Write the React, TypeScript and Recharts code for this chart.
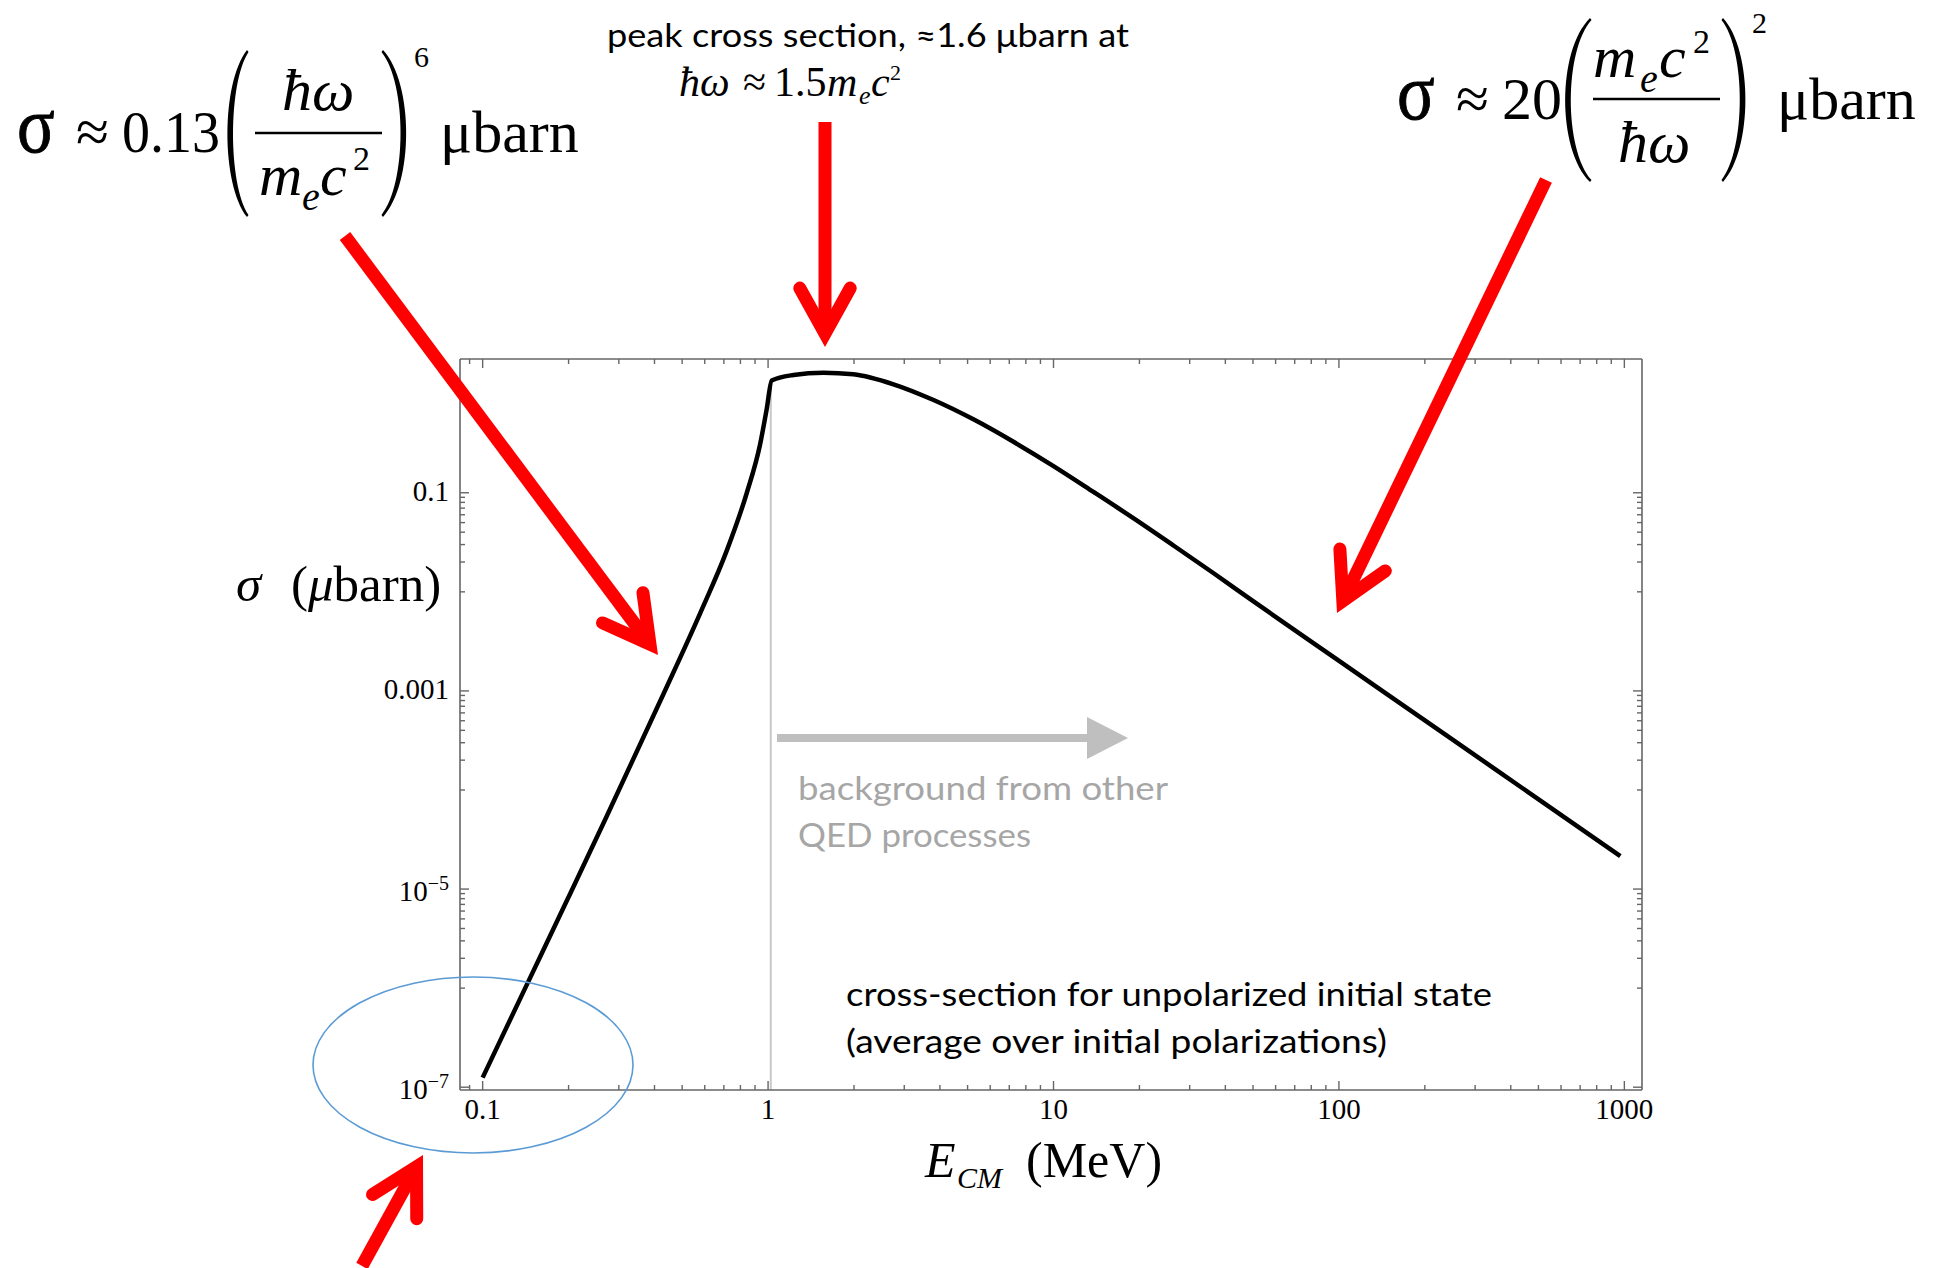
import React from "react";
import { LineChart, Line, XAxis, YAxis, ReferenceLine } from "recharts";

// ---------------- data ----------------
const energyMeV = [
  0.1, 0.14, 0.2, 0.268, 0.43, 0.578, 0.716, 0.842, 0.937, 0.989, 1.03, 1.227,
  1.563, 1.99, 2.75, 3.8, 5.24, 7.24, 10, 13.8, 19.1, 26.4, 36.4, 50.2, 101, 226,
  508, 968,
];
const sigmaMicrobarn = [
  1.25e-7, 9.6e-7, 8.3e-6, 4.94e-5, 9.3e-4, 6.07e-3, 0.0259, 0.0995, 0.305, 0.7,
  1.36, 1.545, 1.63, 1.57, 1.245, 0.863, 0.551, 0.327, 0.186, 0.102, 0.0551, 0.0292,
  0.0154, 0.008, 1.976e-3, 3.95e-4, 7.81e-5, 2.15e-5,
];
const thresholdEnergy = 1.022; // 2 m_e c^2
const thresholdSigma = 1.36;

const xDomain = [0.0833, 1153];
const yDomain = [9.37e-8, 2.24];

const xMajorTicks = [0.1, 1, 10, 100, 1000];
const xTickLabels = ["0.1", "1", "10", "100", "1000"];
const xMinorTicks = [
  0.09, 0.2, 0.3, 0.4, 0.5, 0.6, 0.7, 0.8, 0.9, 2, 3, 4, 5, 6, 7, 8, 9, 20, 30, 40,
  50, 60, 70, 80, 90, 200, 300, 400, 500, 600, 700, 800, 900,
];
const yMajorTicks = [1e-7, 1e-5, 1e-3, 0.1];
const yTickLabels = ["10|\u22127", "10|\u22125", "0.001", "0.1"];
const yMinorTicks = [
  0.09, 0.08, 0.07, 0.06, 0.05, 0.04, 0.03, 0.02, 0.01,
  9e-4, 8e-4, 7e-4, 6e-4, 5e-4, 4e-4, 3e-4, 2e-4, 1e-4,
  9e-6, 8e-6, 7e-6, 6e-6, 5e-6, 4e-6, 3e-6, 2e-6, 1e-6,
];

const chartData = energyMeV.map((e, i) => ({ e, s: sigmaMicrobarn[i] }));

// ---------------- styling ----------------
const W = 1941;
const H = 1268;
const SERIF = "'Liberation Serif', 'Times New Roman', serif";
const SANS = "Lato, 'Open Sans', sans-serif";
const FRAME = "#666666";
const MAJOR_LEN = 9;
const MINOR_LEN = 5;

const findIdx = (v: number, arr: number[]) =>
  arr.findIndex((m) => Math.abs(Math.log10(m) - Math.log10(v)) < 1e-6);

const renderYLabel = (label: string, x: number, y: number) => {
  const parts = label.split("|");
  if (parts.length === 2) {
    return (
      <text x={x} y={y + 11.5} textAnchor="end" fontFamily={SERIF} fontSize={29} fill="#000">
        {parts[0]}
        <tspan fontSize={20} dy={-11}>{parts[1]}</tspan>
      </text>
    );
  }
  return (
    <text x={x} y={y + 8} textAnchor="end" fontFamily={SERIF} fontSize={29} fill="#000">
      {label}
    </text>
  );
};

// tick renderers: x,y received are the axis-line position of the tick (tickSize=0, tickMargin=0)
const makeXTick = (side: "bottom" | "top") => (props: any) => {
  const { x, y, payload } = props;
  const idx = findIdx(payload.value, xMajorTicks);
  const major = idx >= 0;
  const len = major ? MAJOR_LEN : MINOR_LEN;
  const dir = side === "bottom" ? -1 : 1;
  return (
    <g>
      <line x1={x} x2={x} y1={y} y2={y + dir * len} stroke={FRAME} strokeWidth={1.4} />
      {major && side === "bottom" && (
        <text x={x} y={y + 29} textAnchor="middle" fontFamily={SERIF} fontSize={29} fill="#000">
          {xTickLabels[idx]}
        </text>
      )}
    </g>
  );
};

const makeYTick = (side: "left" | "right") => (props: any) => {
  const { x, y, payload } = props;
  const idx = findIdx(payload.value, yMajorTicks);
  const major = idx >= 0;
  const len = major ? MAJOR_LEN : MINOR_LEN;
  const dir = side === "left" ? 1 : -1;
  return (
    <g>
      <line x1={x} x2={x + dir * len} y1={y} y2={y} stroke={FRAME} strokeWidth={1.4} />
      {major && side === "left" && renderYLabel(yTickLabels[idx], x - 11, y)}
    </g>
  );
};

// ---------------- annotation helpers ----------------
const Paren = ({ xa, xb, ya, yb, side }: any) => {
  const h = yb - ya;
  let d;
  if (side === "left") {
    d = `M ${xb} ${ya} C ${xa - 6} ${ya + 0.2 * h}, ${xa - 6} ${yb - 0.2 * h}, ${xb} ${yb} L ${xb + 1.5} ${yb - 2} C ${xa + 1} ${yb - 0.2 * h}, ${xa + 1} ${ya + 0.2 * h}, ${xb + 1.5} ${ya + 2} Z`;
  } else {
    d = `M ${xa} ${ya} C ${xb + 6} ${ya + 0.2 * h}, ${xb + 6} ${yb - 0.2 * h}, ${xa} ${yb} L ${xa - 1.5} ${yb - 2} C ${xb - 1} ${yb - 0.2 * h}, ${xb - 1} ${ya + 0.2 * h}, ${xa - 1.5} ${ya + 2} Z`;
  }
  return <path d={d} fill="#000" />;
};

const RedArrow = ({ from, to }: any) => {
  const dx = to[0] - from[0];
  const dy = to[1] - from[1];
  const L = Math.hypot(dx, dy);
  const ux = dx / L;
  const uy = dy / L;
  const w = 13;
  const half = (29 * Math.PI) / 180;
  const back = w / 2 / Math.sin(half);
  const ax = to[0] - ux * back;
  const ay = to[1] - uy * back;
  const bl = 52;
  const vx = -ux;
  const vy = -uy;
  const r = (t: number) => [vx * Math.cos(t) - vy * Math.sin(t), vx * Math.sin(t) + vy * Math.cos(t)];
  const [r1x, r1y] = r(half);
  const [r2x, r2y] = r(-half);
  return (
    <g>
      <line x1={from[0]} y1={from[1]} x2={ax} y2={ay} stroke="#ff0000" strokeWidth={w} strokeLinecap="butt" />
      <polyline
        points={`${ax + r1x * bl},${ay + r1y * bl} ${ax},${ay} ${ax + r2x * bl},${ay + r2y * bl}`}
        fill="none"
        stroke="#ff0000"
        strokeWidth={w}
        strokeLinejoin="miter"
        strokeMiterlimit={10}
        strokeLinecap="round"
      />
    </g>
  );
};

const Sigma = ({ x, y }: any) => (
  <text
    transform={`translate(${x},${y}) scale(1,1.15)`}
    x={0}
    y={0}
    fontSize={70}
    fontFamily={SERIF}
    fill="#000"
    stroke="#000"
    strokeWidth={0.8}
  >
    σ
  </text>
);

const Overlay = () => (
  <svg
    width={W}
    height={H}
    style={{ position: "absolute", left: 0, top: 0, pointerEvents: "none" }}
  >
    {/* left formula */}
    <g fontFamily={SERIF} fill="#000">
      <Sigma x={17} y={152} />
      <text x={76} y={152} fontSize={60}>≈</text>
      <text x={122} y={152} fontSize={60} textLength={98} lengthAdjust="spacingAndGlyphs">0.13</text>
      <Paren xa={227} xb={247} ya={50} yb={217} side="left" />
      <text x={282} y={110} fontSize={60} fontStyle="italic">ħω</text>
      <line x1={255} x2={382} y1={133} y2={133} stroke="#000" strokeWidth={2.5} />
      <text x={259} y={195} fontSize={60} fontStyle="italic">m</text>
      <text x={302} y={210} fontSize={40} fontStyle="italic">e</text>
      <text x={320} y={195} fontSize={60} fontStyle="italic">c</text>
      <text x={353} y={170} fontSize={34}>2</text>
      <Paren xa={383} xb={408} ya={50} yb={217} side="right" />
      <text x={414} y={67} fontSize={30}>6</text>
      <text x={440} y={152} fontSize={60}>μbarn</text>
    </g>

    {/* right formula */}
    <g fontFamily={SERIF} fill="#000">
      <Sigma x={1397} y={119} />
      <text x={1456} y={119} fontSize={60}>≈</text>
      <text x={1502} y={119} fontSize={60}>20</text>
      <Paren xa={1563} xb={1590} ya={18} yb={182} side="left" />
      <text x={1593} y={77} fontSize={60} fontStyle="italic">m</text>
      <text x={1640} y={92} fontSize={40} fontStyle="italic">e</text>
      <text x={1659} y={77} fontSize={60} fontStyle="italic">c</text>
      <text x={1693} y={53} fontSize={34}>2</text>
      <line x1={1593} x2={1720} y1={99} y2={99} stroke="#000" strokeWidth={2.5} />
      <text x={1618} y={162} fontSize={60} fontStyle="italic">ħω</text>
      <Paren xa={1723} xb={1747} ya={18} yb={182} side="right" />
      <text x={1752} y={33} fontSize={30}>2</text>
      <text x={1777} y={119} fontSize={60}>μbarn</text>
    </g>

    {/* top center note */}
    <text x={607} y={47} fontFamily={SANS} fontSize={32} fill="#000" textLength={522} lengthAdjust="spacingAndGlyphs">
      peak cross section, ≈1.6 μbarn at
    </text>
    <g fontFamily={SERIF} fill="#000">
      <text x={679} y={96} fontSize={42} fontStyle="italic">ħω</text>
      <text x={743} y={96} fontSize={42}>≈</text>
      <text x={774} y={96} fontSize={42}>1.5</text>
      <text x={827} y={96} fontSize={42} fontStyle="italic">m</text>
      <text x={859} y={104} fontSize={26} fontStyle="italic">e</text>
      <text x={871} y={96} fontSize={42} fontStyle="italic">c</text>
      <text x={890} y={80} fontSize={22}>2</text>
    </g>

    {/* axis titles */}
    <text x={236} y={601} fontFamily={SERIF} fontSize={51} fill="#000">
      <tspan fontStyle="italic">σ</tspan>
      <tspan x={291}>(</tspan>
      <tspan fontStyle="italic">μ</tspan>
      <tspan>barn)</tspan>
    </text>
    <text x={925} y={1177} fontFamily={SERIF} fontSize={50} fill="#000" fontStyle="italic">E</text>
    <text x={957} y={1188} fontFamily={SERIF} fontSize={30} fill="#000" fontStyle="italic">CM</text>
    <text x={1026} y={1177} fontFamily={SERIF} fontSize={50} fill="#000">(MeV)</text>

    {/* gray background arrow and note */}
    <line x1={777} x2={1088} y1={738} y2={738} stroke="#bfbfbf" strokeWidth={8} />
    <polygon points="1087,717 1128,738 1087,759" fill="#bfbfbf" />
    <text x={798} y={800} fontFamily={SANS} fontSize={33} fill="#a6a6a6" textLength={370} lengthAdjust="spacingAndGlyphs">
      background from other
    </text>
    <text x={798} y={847} fontFamily={SANS} fontSize={33} fill="#a6a6a6" textLength={233} lengthAdjust="spacingAndGlyphs">
      QED processes
    </text>

    {/* black note */}
    <text x={846} y={1006} fontFamily={SANS} fontSize={32} fill="#000" textLength={646} lengthAdjust="spacingAndGlyphs">
      cross-section for unpolarized initial state
    </text>
    <text x={846} y={1053} fontFamily={SANS} fontSize={32} fill="#000" textLength={541} lengthAdjust="spacingAndGlyphs">
      (average over initial polarizations)
    </text>

    {/* blue ellipse */}
    <ellipse cx={473} cy={1065} rx={160} ry={88} fill="none" stroke="#5b9bd5" strokeWidth={1.6} />

    {/* red arrows */}
    <RedArrow from={[345, 236]} to={[658, 655]} />
    <RedArrow from={[825, 122]} to={[825, 347]} />
    <RedArrow from={[1546, 180]} to={[1337, 613]} />
    <RedArrow from={[362, 1266]} to={[423, 1155]} />
  </svg>
);

export default function App() {
  return (
    <div style={{ position: "absolute", left: 0, top: 0, width: W, height: H, background: "#fff" }}>
      <LineChart
        width={W}
        height={H}
        data={chartData}
        margin={{ top: 358, right: 298, bottom: 177, left: 459 }}
      >
        <XAxis
          xAxisId="b"
          dataKey="e"
          type="number"
          scale="log"
          domain={xDomain}
          allowDataOverflow
          orientation="bottom"
          height={1}
          ticks={[...xMajorTicks, ...xMinorTicks]}
          interval={0}
          tickSize={0}
          tickMargin={0}
          tickLine={false}
          tick={makeXTick("bottom")}
          axisLine={{ stroke: FRAME, strokeWidth: 1.6 }}
        />
        <XAxis
          xAxisId="t"
          dataKey="e"
          type="number"
          scale="log"
          domain={xDomain}
          allowDataOverflow
          orientation="top"
          height={1}
          ticks={[...xMajorTicks, ...xMinorTicks]}
          interval={0}
          tickSize={0}
          tickMargin={0}
          tickLine={false}
          tick={makeXTick("top")}
          axisLine={{ stroke: FRAME, strokeWidth: 1.6 }}
        />
        <YAxis
          yAxisId="l"
          type="number"
          scale="log"
          domain={yDomain}
          allowDataOverflow
          orientation="left"
          width={1}
          ticks={[...yMajorTicks, ...yMinorTicks]}
          interval={0}
          tickSize={0}
          tickMargin={0}
          tickLine={false}
          tick={makeYTick("left")}
          axisLine={{ stroke: FRAME, strokeWidth: 1.6 }}
        />
        <YAxis
          yAxisId="r"
          type="number"
          scale="log"
          domain={yDomain}
          allowDataOverflow
          orientation="right"
          width={1}
          ticks={[...yMajorTicks, ...yMinorTicks]}
          interval={0}
          tickSize={0}
          tickMargin={0}
          tickLine={false}
          tick={makeYTick("right")}
          axisLine={{ stroke: FRAME, strokeWidth: 1.6 }}
        />
        <ReferenceLine
          xAxisId="b"
          yAxisId="l"
          segment={[
            { x: thresholdEnergy, y: yDomain[0] },
            { x: thresholdEnergy, y: thresholdSigma },
          ]}
          stroke="#c8c8c8"
          strokeWidth={2}
        />
        <Line
          xAxisId="t"
          yAxisId="r"
          dataKey="s"
          stroke="none"
          dot={false}
          activeDot={false}
          isAnimationActive={false}
        />
        <Line
          xAxisId="b"
          yAxisId="l"
          dataKey="s"
          type="monotone"
          stroke="#000"
          strokeWidth={4.5}
          dot={false}
          activeDot={false}
          isAnimationActive={false}
        />
      </LineChart>
      <Overlay />
    </div>
  );
}
